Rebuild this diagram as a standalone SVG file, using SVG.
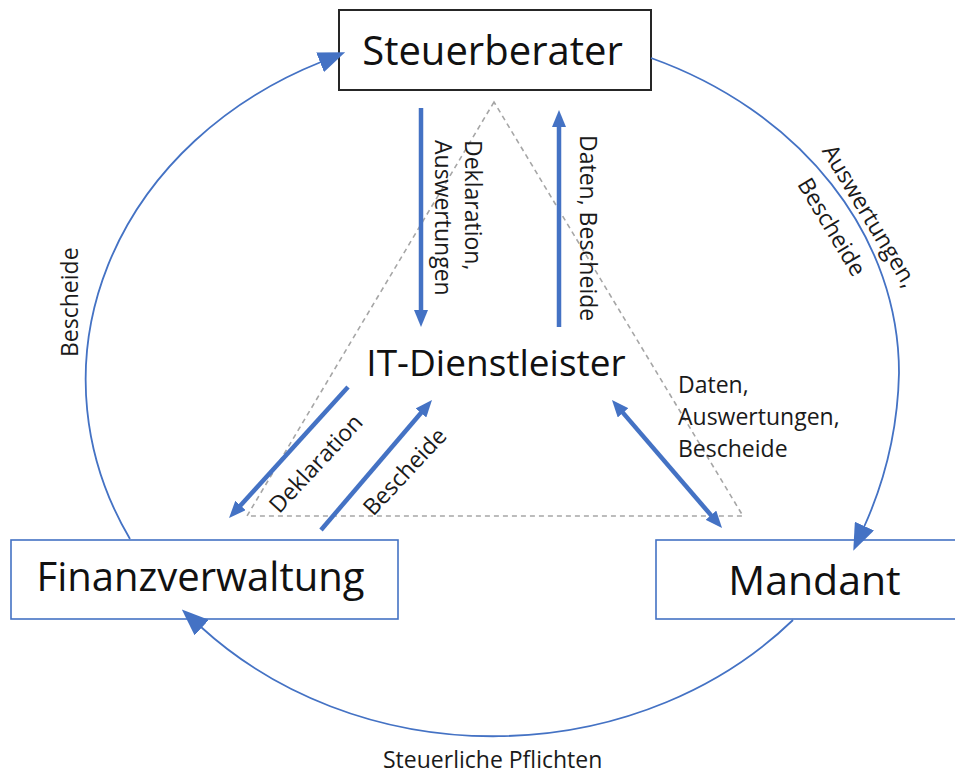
<svg xmlns="http://www.w3.org/2000/svg" width="955" height="775" viewBox="0 0 955 775">
<style>
.node{fill:#ffffff;stroke:#4472C4;stroke-width:1.6}
.node-dark{fill:#ffffff;stroke:#262626;stroke-width:2}
.big{font-family:"Open Sans","DejaVu Sans",sans-serif;fill:#111111;text-anchor:middle}
.lbl{font-family:"Open Sans","DejaVu Sans",sans-serif;font-size:23px;fill:#1a1a1a}
.thin{fill:none;stroke:#4472C4;stroke-width:1.8}
.thick{fill:none;stroke:#4472C4;stroke-width:4.5}
.tri{fill:none;stroke:#a6a6a6;stroke-width:1.6;stroke-dasharray:5 4}
</style>
<defs>
<marker id="big" viewBox="0 0 27 21" refX="1" refY="10.5" markerWidth="27" markerHeight="21" markerUnits="userSpaceOnUse" orient="auto">
<path d="M0,0 L27,10.5 L0,21 z" fill="#4472C4"/>
</marker>
<marker id="sm" viewBox="0 0 17 14" refX="1" refY="7" markerWidth="17" markerHeight="14" markerUnits="userSpaceOnUse" orient="auto-start-reverse">
<path d="M0,0 L17,7 L0,14 z" fill="#4472C4"/>
</marker>
</defs>
<rect width="955" height="775" fill="#ffffff"/>

<polygon id="triangle" class="tri" points="494,102 247,516 743,516"/>

<g id="node-steuerberater">
<rect class="node-dark" x="339" y="10" width="312" height="80"/>
<text class="big" x="492.5" y="65" font-size="40">Steuerberater</text>
</g>
<g id="node-it-dienstleister">
<text class="big" x="496" y="375.5" font-size="37">IT-Dienstleister</text>
</g>
<g id="node-finanzverwaltung">
<rect class="node" x="11" y="540" width="387" height="79"/>
<text class="big" x="200.5" y="591" font-size="40">Finanzverwaltung</text>
</g>
<g id="node-mandant">
<rect class="node" x="656" y="540" width="310" height="79"/>
<text class="big" x="814.5" y="595" font-size="41">Mandant</text>
</g>

<g id="connectors">
<path class="thin" d="M130,539 A405,350 0 0,1 321,62" marker-end="url(#big)"/>
<path class="thin" d="M651,58 A407,342 0 0,1 899,373 A407,400 0 0,1 864,527" marker-end="url(#big)"/>
<path class="thin" d="M793,620 A405,355 0 0,1 201,627" marker-end="url(#big)"/>
<line class="thick" x1="421" y1="108" x2="421" y2="311" marker-end="url(#sm)"/>
<line class="thick" x1="559" y1="327" x2="559" y2="126" marker-end="url(#sm)"/>
<line class="thick" x1="348" y1="387" x2="239.8" y2="506.2" marker-end="url(#sm)"/>
<line class="thick" x1="321" y1="530" x2="421.6" y2="412.2" marker-end="url(#sm)"/>
<line class="thick" x1="622.4" y1="412.1" x2="711.6" y2="515.9" marker-start="url(#sm)" marker-end="url(#sm)"/>
</g>

<g id="labels">
<text class="lbl" transform="translate(465,140) rotate(90)">Deklaration,</text>
<text class="lbl" transform="translate(435,140) rotate(90)">Auswertungen</text>
<text class="lbl" transform="translate(580,135) rotate(90)">Daten, Bescheide</text>
<text class="lbl" transform="translate(78,357) rotate(-90)">Bescheide</text>
<text class="lbl" text-anchor="middle" transform="translate(863,220) rotate(59)">Auswertungen,</text>
<text class="lbl" text-anchor="middle" transform="translate(825,231) rotate(59)">Bescheide</text>
<text class="lbl" text-anchor="middle" transform="translate(321.6,469) rotate(-47)">Deklaration</text>
<text class="lbl" text-anchor="middle" transform="translate(410.6,477) rotate(-47)">Bescheide</text>
<text class="lbl" x="678" y="393">Daten,</text>
<text class="lbl" x="678" y="425">Auswertungen,</text>
<text class="lbl" x="678" y="457">Bescheide</text>
<text class="lbl" x="383" y="768">Steuerliche Pflichten</text>
</g>
</svg>
